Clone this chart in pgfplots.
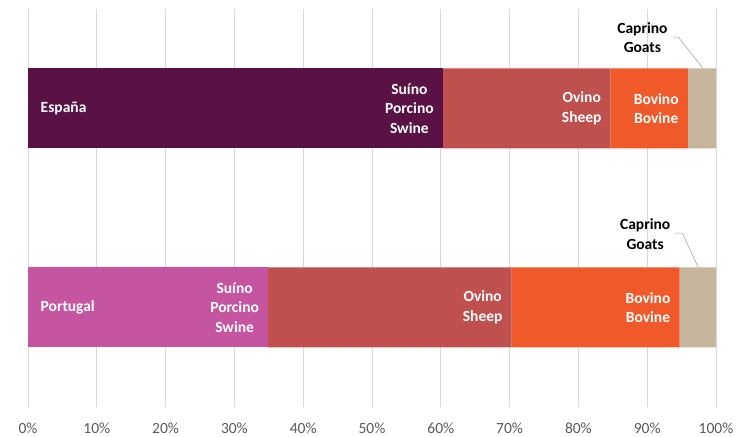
\documentclass[border=0pt]{standalone}
\usepackage{pgfplots}
\pgfplotsset{compat=1.18}
\usepackage{fontspec}
\setmainfont{Carlito}
\definecolor{cSuES}{RGB}{90,18,68}
\definecolor{cSuPT}{RGB}{197,85,160}
\definecolor{cOv}{RGB}{192,80,78}
\definecolor{cBo}{RGB}{240,90,42}
\definecolor{cCa}{RGB}{196,181,156}
\definecolor{cGrid}{RGB}{217,217,217}
\definecolor{cTick}{RGB}{89,89,89}
\tikzset{lbl/.style={font=\fontsize{15.5bp}{19.5bp}\selectfont\bfseries, inner sep=0pt, align=center}}
\pgfplotsset{base/.style={
  at={(28bp,30bp)}, anchor=south west,
  scale only axis, width=688bp, height=398bp,
  xmin=0, xmax=100, ymin=-0.5, ymax=1.5,
  axis line style={draw=none}, ytick=\empty, clip=false}}
\begin{document}
\begin{tikzpicture}
\path[use as bounding box] (0,0) rectangle (739bp,437bp);
\begin{axis}[base,
  xbar stacked, bar width=80bp,
  xtick={0,10,...,100},
  xticklabels={0\%,10\%,20\%,30\%,40\%,50\%,60\%,70\%,80\%,90\%,100\%},
  xmajorgrids, grid style={cGrid, line width=0.8pt},
  major tick length=0pt,
  xticklabel style={font=\fontsize{15.5bp}{18bp}\selectfont, text=cTick, anchor=center, yshift=-21bp, inner sep=0pt},
]
\addplot[fill=cSuES, draw=none] coordinates {(60.3,1) (0,0)};
\addplot[fill=cSuPT, draw=none] coordinates {(0,1) (34.9,0)};
\addplot[fill=cOv, draw=none] coordinates {(24.4,1) (35.4,0)};
\addplot[fill=cBo, draw=none] coordinates {(11.2,1) (24.4,0)};
\addplot[fill=cCa, draw=none] coordinates {(4.1,1) (5.3,0)};
\end{axis}
\begin{axis}[base, xtick=\empty]
% labels Espana
\node[lbl, anchor=west, text=white, xshift=12.5bp] at (axis cs:0,1) {España};
\node[lbl, anchor=east, text=white, xshift=-9bp] at (axis cs:60.3,1) {Suíno\\Porcino\\Swine};
\node[lbl, anchor=east, text=white, xshift=-9bp] at (axis cs:84.7,1) {Ovino\\Sheep};
\node[lbl, anchor=east, text=white, xshift=-9bp] at (axis cs:95.9,1) {Bovino\\Bovine};
\node[lbl, anchor=center, text=black] at (axis cs:89.3,1.357) {Caprino\\Goats};
\draw[gray!70, line width=0.6pt] (axis cs:93.75,1.359) -- (axis cs:94.5,1.359) -- (axis cs:98.1,1.203);
% labels Portugal
\node[lbl, anchor=west, text=white, xshift=12.5bp] at (axis cs:0,0) {Portugal};
\node[lbl, anchor=east, text=white, xshift=-9bp] at (axis cs:34.9,0) {Suíno\\Porcino\\Swine};
\node[lbl, anchor=east, text=white, xshift=-9bp] at (axis cs:70.3,0) {Ovino\\Sheep};
\node[lbl, anchor=east, text=white, xshift=-9bp] at (axis cs:94.7,0) {Bovino\\Bovine};
\node[lbl, anchor=center, text=black] at (axis cs:89.7,0.369) {Caprino\\Goats};
\draw[gray!70, line width=0.6pt] (axis cs:94.0,0.374) -- (axis cs:95.1,0.374) -- (axis cs:97.4,0.2035);
\end{axis}
\end{tikzpicture}
\end{document}
